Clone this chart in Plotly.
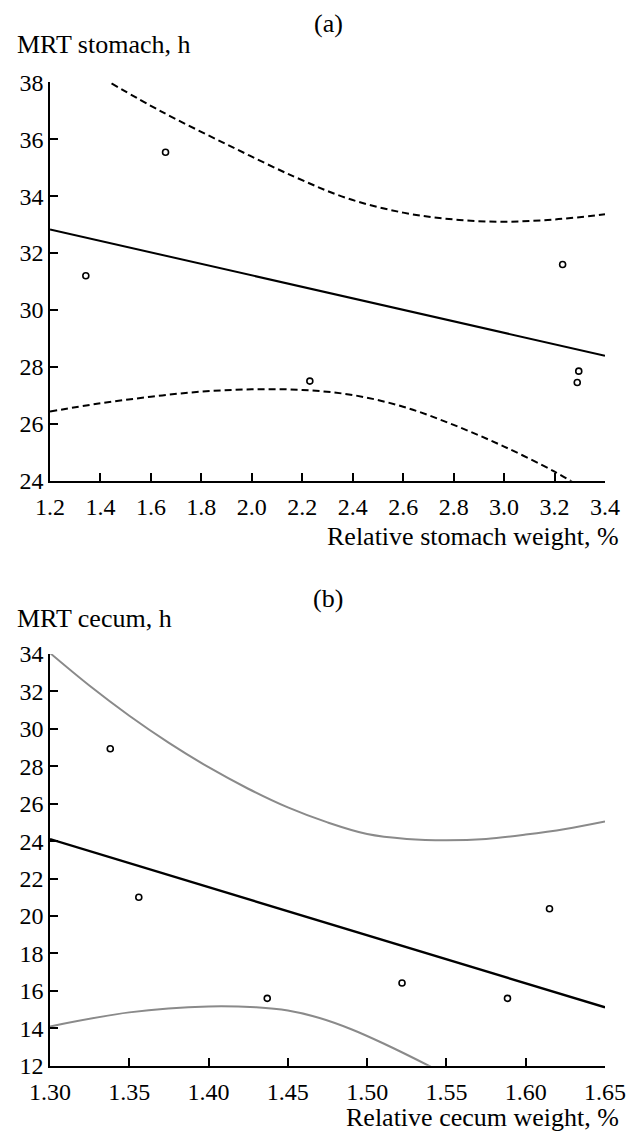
import plotly.graph_objects as go

# ---------------- Panel (a): stomach ----------------
a_pts_x = [1.342, 1.658, 2.230, 3.232, 3.296, 3.290]
a_pts_y = [31.2, 35.54, 27.50, 31.6, 27.85, 27.45]

a_fit_x = [1.2, 3.4]
a_fit_y = [32.83, 28.39]

a_up_x = [1.444, 1.642, 1.905, 2.169, 2.38, 2.6, 2.8, 3.0, 3.2, 3.4]
a_up_y = [37.96, 36.97, 35.80, 34.68, 33.92, 33.42, 33.18, 33.1, 33.18, 33.36]

a_lo_x = [1.2, 1.4, 1.6, 1.8, 2.0, 2.2, 2.4, 2.6, 2.8, 3.0, 3.2, 3.28]
a_lo_y = [26.43, 26.72, 26.95, 27.13, 27.21, 27.19, 27.01, 26.6, 25.96, 25.2, 24.32, 23.9]

a_xticks = [1.2, 1.4, 1.6, 1.8, 2.0, 2.2, 2.4, 2.6, 2.8, 3.0, 3.2, 3.4]
a_xticklabels = ["1.2", "1.4", "1.6", "1.8", "2.0", "2.2", "2.4", "2.6", "2.8", "3.0", "3.2", "3.4"]
a_yticks = [24, 26, 28, 30, 32, 34, 36, 38]

# ---------------- Panel (b): cecum ----------------
b_pts_x = [1.338, 1.356, 1.437, 1.522, 1.5885, 1.615]
b_pts_y = [28.94, 21.0, 15.6, 16.42, 15.6, 20.39]

b_fit_x = [1.30, 1.65]
b_fit_y = [24.11, 15.12]

b_up_x = [1.30, 1.325, 1.35, 1.375, 1.40, 1.425, 1.45, 1.475, 1.50, 1.525, 1.55, 1.575, 1.60, 1.625, 1.65]
b_up_y = [34.05, 32.3, 30.7, 29.25, 27.95, 26.8, 25.8, 25.0, 24.38, 24.12, 24.05, 24.12, 24.35, 24.65, 25.05]

b_lo_x = [1.30, 1.35, 1.40, 1.43, 1.45, 1.47, 1.49, 1.51, 1.5388, 1.545]
b_lo_y = [14.1, 14.85, 15.17, 15.12, 14.95, 14.55, 13.95, 13.2, 12.0, 11.72]

b_xticks = [1.30, 1.35, 1.40, 1.45, 1.50, 1.55, 1.60, 1.65]
b_xticklabels = ["1.30", "1.35", "1.40", "1.45", "1.50", "1.55", "1.60", "1.65"]
b_yticks = [12, 14, 16, 18, 20, 22, 24, 26, 28, 30, 32, 34]

W, H = 635, 1134
FONT = "Liberation Serif, Times New Roman, serif"

def px_x(p):
    return p / W

def px_y(p):
    return 1 - p / H

fig = go.Figure()

# panel (a)
fig.add_trace(go.Scatter(x=a_up_x, y=a_up_y, mode="lines", line=dict(color="black", width=2, dash="7px,4px", shape="spline"), xaxis="x", yaxis="y"))
fig.add_trace(go.Scatter(x=a_lo_x, y=a_lo_y, mode="lines", line=dict(color="black", width=2, dash="7px,4px", shape="spline"), xaxis="x", yaxis="y"))
fig.add_trace(go.Scatter(x=a_fit_x, y=a_fit_y, mode="lines", line=dict(color="black", width=2), xaxis="x", yaxis="y"))
fig.add_trace(go.Scatter(x=a_pts_x, y=a_pts_y, mode="markers", marker=dict(symbol="circle-open", size=6, color="black", line=dict(width=1.6)), xaxis="x", yaxis="y"))

# panel (b)
fig.add_trace(go.Scatter(x=b_up_x, y=b_up_y, mode="lines", line=dict(color="#8a8a8a", width=2, shape="spline"), xaxis="x2", yaxis="y2"))
fig.add_trace(go.Scatter(x=b_lo_x, y=b_lo_y, mode="lines", line=dict(color="#8a8a8a", width=2, shape="spline"), xaxis="x2", yaxis="y2"))
fig.add_trace(go.Scatter(x=b_fit_x, y=b_fit_y, mode="lines", line=dict(color="black", width=2.4), xaxis="x2", yaxis="y2"))
fig.add_trace(go.Scatter(x=b_pts_x, y=b_pts_y, mode="markers", marker=dict(symbol="circle-open", size=6, color="black", line=dict(width=1.6)), xaxis="x2", yaxis="y2"))

axis_common = dict(
    showline=True, linecolor="black", linewidth=1.5,
    ticks="inside", ticklen=8, tickwidth=1.5, tickcolor="black",
    showgrid=False, zeroline=False, mirror=False, automargin=False,
    tickfont=dict(family=FONT, size=24, color="black"),
)

xdom = [px_x(50), px_x(605)]

fig.update_layout(
    width=W, height=H,
    margin=dict(l=0, r=0, t=0, b=0, autoexpand=False),
    paper_bgcolor="white", plot_bgcolor="white",
    showlegend=False,
    font=dict(family=FONT, color="black"),
    xaxis=dict(axis_common, domain=xdom, range=[1.2, 3.4], tickvals=a_xticks, ticktext=a_xticklabels, anchor="y", ticklabelstandoff=4),
    yaxis=dict(axis_common, domain=[px_y(480.7), px_y(82.3)], range=[24, 38], tickvals=a_yticks, anchor="x"),
    xaxis2=dict(axis_common, domain=xdom, range=[1.30, 1.65], tickvals=b_xticks, ticktext=b_xticklabels, anchor="y2", ticklabelstandoff=4),
    yaxis2=dict(axis_common, domain=[px_y(1065.7), px_y(654)], range=[12, 34], tickvals=b_yticks, anchor="x2"),
)

def note(text, x, y, xanchor, size=26):
    fig.add_annotation(text=text, x=px_x(x), y=px_y(y), xref="paper", yref="paper",
                       xanchor=xanchor, yanchor="middle", showarrow=False,
                       font=dict(family=FONT, size=size, color="black"))

note("(a)", 328, 23, "center")
note("MRT stomach, h", 15, 44, "left")
note("Relative stomach weight, %", 621, 537, "right")
note("(b)", 328, 598, "center")
note("MRT cecum, h", 15, 618, "left")
note("Relative cecum weight, %", 621, 1117, "right")

fig.write_html(
    "out.html",
    config={"displayModeBar": False},
    post_script="document.body.style.margin='0';document.body.style.padding='0';document.documentElement.style.overflow='hidden';",
)
